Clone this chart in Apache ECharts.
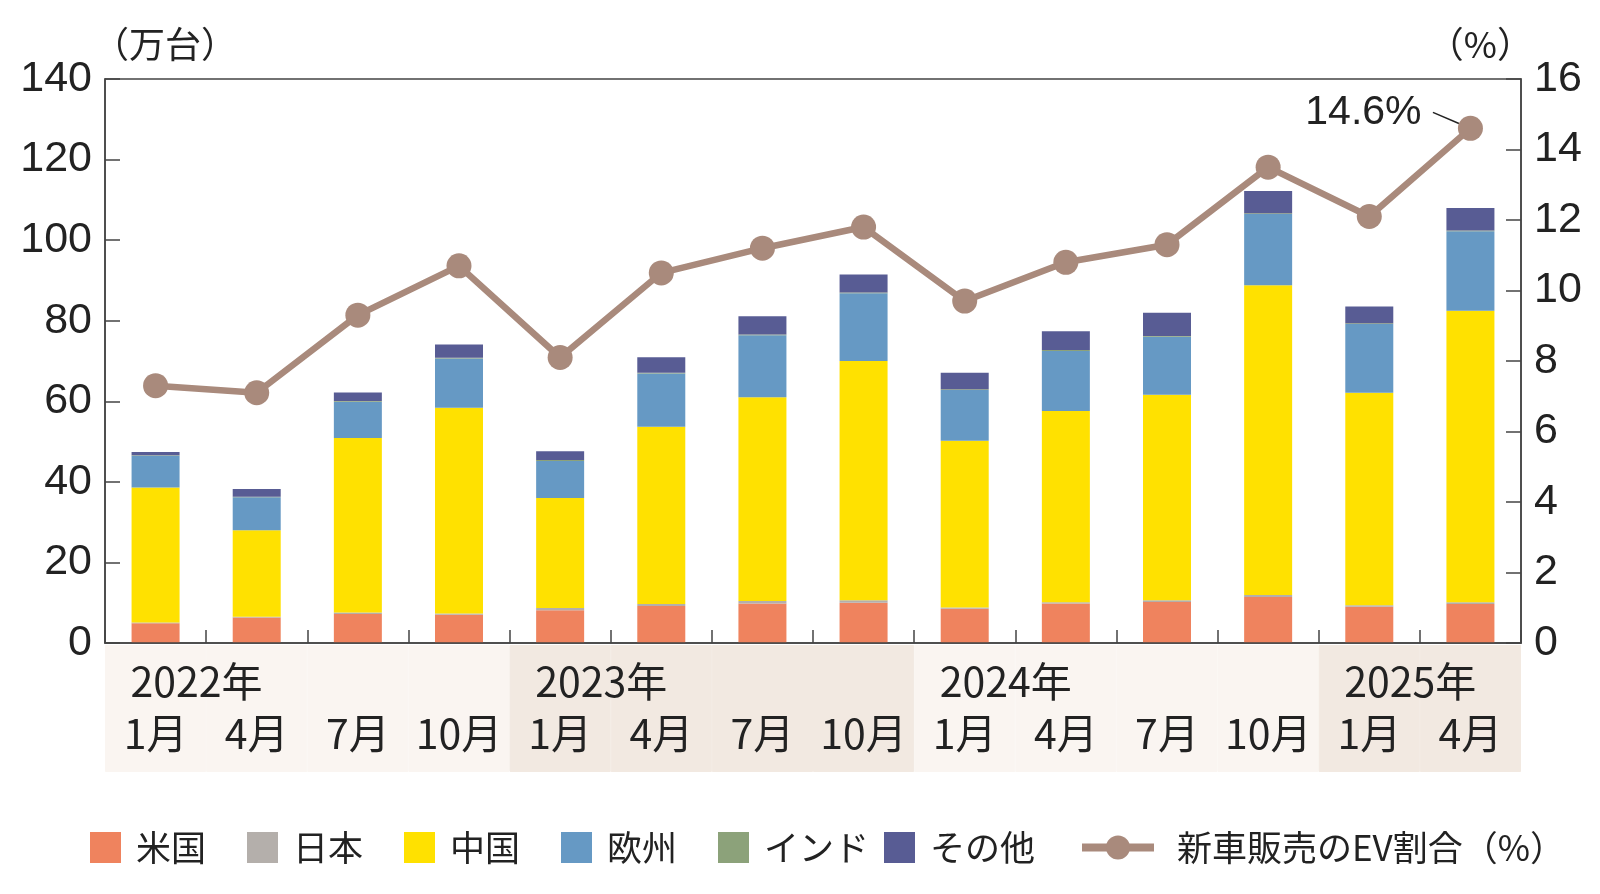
<!DOCTYPE html>
<html><head><meta charset="utf-8">
<script src="https://cdn.jsdelivr.net/npm/echarts@6/dist/echarts.min.js"></script>
<style>html,body{margin:0;padding:0;background:#fff}#c{width:1600px;height:894px}</style>
</head><body><div id="c"></div>
<script>
const months = ['1月','4月','7月','10月','1月','4月','7月','10月','1月','4月','7月','10月','1月','4月'];
const years = ['2022年','2023年','2024年','2025年'];
const yearOf = [0,0,0,0,1,1,1,1,2,2,2,2,3,3];
const seriesNames = ['米国','日本','中国','欧州','インド','その他'];
const us     = [4.9, 6.3, 7.2, 7.0, 8.1, 9.2, 9.8, 10.0, 8.5, 9.8, 10.2, 11.4, 9.0, 9.7];
const japan  = [0.2, 0.2, 0.4, 0.3, 0.6, 0.5, 0.6, 0.6, 0.3, 0.3, 0.4, 0.5, 0.4, 0.4];
const china  = [33.5, 21.5, 43.3, 51.1, 27.3, 44.0, 50.6, 59.4, 41.4, 47.5, 51.0, 76.9, 52.7, 72.4];
const europe = [7.9, 8.2, 9.0, 12.2, 9.2, 13.2, 15.4, 16.8, 12.6, 14.9, 14.4, 17.7, 17.1, 19.7];
const india  = [0.1, 0.1, 0.2, 0.2, 0.2, 0.2, 0.2, 0.2, 0.2, 0.2, 0.2, 0.2, 0.2, 0.2];
const other  = [0.8, 1.9, 2.1, 3.3, 2.2, 3.8, 4.5, 4.5, 4.1, 4.7, 5.8, 5.5, 4.1, 5.6];
const evShare = [7.3, 7.1, 9.3, 10.7, 8.1, 10.5, 11.2, 11.8, 9.7, 10.8, 11.3, 13.5, 12.1, 14.6];
const lineName = '新車販売のEV割合（%）';
const leftUnit = '（万台）';
const rightUnit = '（%）';

const barData = [us, japan, china, europe, india, other];
const barColors = ['#ef835e','#b4afab','#ffe100','#6699c4','#8ca27a','#585c94'];
const bandColors = ['#faf5f1','#f2e9e1'];
const cats = months.map((m,i)=>i);
const numFont = '"Liberation Sans", Arial, sans-serif';
const jpFont = '"Noto Sans CJK JP", sans-serif';
const narrowFont = '"Liberation Sans Narrow", "Noto Sans CJK JP", sans-serif';
const legendText = {fontSize:35, fontFamily:jpFont, color:'#222', padding:[0,0,0,10]};

const chart = echarts.init(document.getElementById('c'), null, {renderer:'canvas'});
const last = evShare.length - 1;
const option = {
  animation: false,
  backgroundColor: '#fff',
  grid: [
    {left:105, right:79, top:79, bottom:251, show:true, borderColor:'#444', borderWidth:1.5, backgroundColor:'transparent'},
    {left:105, right:79, top:645, height:127}
  ],
  legend: [
    {left:90, top:830, padding:0, itemWidth:31, itemHeight:31, itemGap:41, icon:'rect',
     data: seriesNames.slice(0,5), textStyle:legendText},
    {left:884, top:830, padding:0, itemWidth:31, itemHeight:31, icon:'rect',
     data: seriesNames.slice(5), textStyle:legendText},
    {left:1078, top:830, padding:0, itemWidth:72, itemHeight:30,
     data:[lineName], lineStyle:{width:8}, textStyle:{...legendText, padding:[0,0,0,18]}}
  ],
  xAxis: [
    {type:'category', gridIndex:0, data:cats, boundaryGap:true,
     axisLine:{show:true, lineStyle:{color:'#444', width:1.5}},
     axisTick:{show:true, inside:true, length:13, interval:0, lineStyle:{color:'#444', width:1.5}},
     axisLabel:{show:true, interval:0, margin:12, hideOverlap:false,
       formatter:(v, idx)=>{
         const y = (idx % 4 === 0) ? years[yearOf[idx]] : ' ';
         return '{y|' + y + '}\n{m|' + months[idx] + '}';
       },
       rich:{
         y:{width:50, align:'left', fontSize:41, lineHeight:52, fontFamily:narrowFont, color:'#222'},
         m:{width:50, align:'center', fontSize:41, lineHeight:52, fontFamily:narrowFont, color:'#222'}
       }},
     z:5},
    {type:'category', gridIndex:1, data:cats, show:false, boundaryGap:true}
  ],
  yAxis: [
    {type:'value', gridIndex:0, min:0, max:140, interval:20,
     name:leftUnit, nameLocation:'end', nameGap:17, nameMoveOverlap:false,
     nameTextStyle:{fontSize:36, fontFamily:jpFont, color:'#222', align:'left', padding:[0,0,0,-12]},
     axisLine:{show:true, lineStyle:{color:'#444', width:1.5}},
     axisTick:{show:true, inside:true, length:15, lineStyle:{color:'#444', width:1.5}},
     splitLine:{show:false},
     axisLabel:{fontSize:43, fontFamily:numFont, color:'#222', margin:13}},
    {type:'value', gridIndex:0, min:0, max:16, interval:2, position:'right',
     name:rightUnit, nameLocation:'end', nameGap:17, nameMoveOverlap:false,
     nameTextStyle:{fontSize:36, fontFamily:jpFont, color:'#222', align:'right', padding:[0,-12,0,0]},
     axisLine:{show:true, lineStyle:{color:'#444', width:1.5}},
     axisTick:{show:true, inside:true, length:15, lineStyle:{color:'#444', width:1.5}},
     splitLine:{show:false},
     axisLabel:{fontSize:43, fontFamily:numFont, color:'#222', margin:13}},
    {type:'value', gridIndex:1, min:0, max:1, show:false}
  ],
  series: [
    ...seriesNames.map((n,k)=>({
      name:n, type:'bar', stack:'ev', xAxisIndex:0, yAxisIndex:0, barWidth:48,
      itemStyle:{color:barColors[k]}, data:barData[k], silent:true
    })),
    {name:lineName, type:'line', xAxisIndex:0, yAxisIndex:1, z:10,
     symbol:'circle', symbolSize:25,
     lineStyle:{color:'#a98a7c', width:6.5}, itemStyle:{color:'#a98a7c'},
     labelLayout:(p)=> p.dataIndex===last ? {dy:-16} : {},
     data: evShare.map((v,i)=> i===last ? {value:v,
        label:{show:true, position:'left', distance:25,
          formatter:(p)=>p.value+'% ', fontSize:41, fontFamily:numFont, color:'#222'},
        labelLine:{show:true, lineStyle:{color:'#222', width:1.5}}} : v)
    },
    {name:'band', type:'bar', xAxisIndex:1, yAxisIndex:2, barWidth:'100%', barGap:'0%', z:-1, silent:true,
     data: cats.map((c,i)=>({value:1, itemStyle:{
        color:bandColors[yearOf[i] % 2], borderColor:bandColors[yearOf[i] % 2], borderWidth:1}}))}
  ]
};
chart.setOption(option);
</script></body></html>
